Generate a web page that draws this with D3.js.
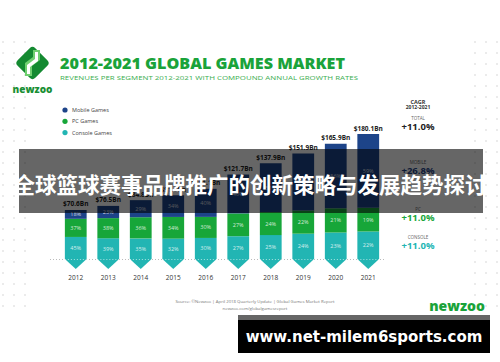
<!DOCTYPE html>
<html>
<head>
<meta charset="utf-8">
<script src="https://cdn.jsdelivr.net/npm/d3@7"></script>
<style>
  html, body { margin: 0; padding: 0; background: #fff; }
  svg { display: block; font-family: "Open Sans", "DejaVu Sans", sans-serif; }
</style>
</head>
<body>
<svg width="500" height="362"></svg>
<script>
// data
const years = ["2012", "2013", "2014", "2015", "2016", "2017", "2018", "2019", "2020", "2021"];
const totals = [70.6, 76.5, 84.8, 91.8, 101.1, 121.7, 137.9, 151.9, 165.9, 180.1];
const mobilePct = [18, 23, 29, 34, 40, 46, 51, 54, 56, 59];
const pcPct = [37, 38, 36, 34, 30, 27, 24, 22, 21, 19];
const consolePct = [45, 39, 35, 32, 30, 27, 25, 24, 23, 22];
const legendLabels = ["Mobile Games", "PC Games", "Console Games"];
const cagrLabels = ["TOTAL", "MOBILE", "PC", "CONSOLE"];
const cagrValues = ["+11.0%", "+26.8%", "+11.0%", "+11.0%"];

const colors = { mobile: "#1d4489", pc: "#17a639", console: "#22b5b3" };

const svg = d3.select("svg");
const baseY = 259;

const x = d3.scaleBand().domain(years).range([59.5, 384.5]).paddingInner(0.33).paddingOuter(0.165);
const y = d3.scaleLinear().domain([0, 180.1]).range([baseY, 134]);

// background dot grid on both sides
const dotRows = d3.range(42, 316, 11);
const dotCols = [3, 14, 25, 475, 486, 497];
svg.append("g").selectAll("circle")
  .data(d3.cross(dotCols, dotRows))
  .join("circle")
  .attr("cx", d => d[0]).attr("cy", d => d[1]).attr("r", 0.7)
  .attr("fill", "#c8c8c8");

// logo
const logo = svg.append("g").attr("transform", "translate(32.5,63)");
logo.append("rect").attr("x", -12.5).attr("y", -12.5).attr("width", 25).attr("height", 25)
  .attr("rx", 4).attr("transform", "rotate(45)").attr("fill", "#148a31");
logo.append("path")
  .attr("d", "M-3,-13 L4,-13 L4,-3 L-4,3 L-4,13 L-11,13 L-11,0 L-3,-6 Z")
  .attr("fill", "#6fcf6f").attr("transform", "translate(3.5,0)");
logo.append("path")
  .attr("d", "M-1,-11 L2,-11 L2,-2 L-6,4 L-6,11 L-9,11 L-9,2 L-1,-4 Z")
  .attr("fill", "#fff").attr("transform", "translate(3.5,0)");
svg.append("text").attr("x", 32.5).attr("y", 93).attr("text-anchor", "middle")
  .attr("font-size", 10).attr("font-weight", 800).attr("fill", "#1a8f35").text("newzoo");

// heading
svg.append("text").attr("x", 60).attr("y", 69)
  .attr("font-size", 16.5).attr("font-weight", 800).attr("fill", "#1aa33a")
  .attr("textLength", 285).attr("lengthAdjust", "spacingAndGlyphs")
  .text("2012-2021 GLOBAL GAMES MARKET");
svg.append("text").attr("x", 60).attr("y", 79.5)
  .attr("font-size", 6).attr("fill", "#3aae4f")
  .attr("textLength", 298).attr("lengthAdjust", "spacingAndGlyphs")
  .text("REVENUES PER SEGMENT 2012-2021 WITH COMPOUND ANNUAL GROWTH RATES");

// legend
const legendColors = [colors.mobile, colors.pc, colors.console];
const legend = svg.append("g").selectAll("g").data(legendLabels).join("g")
  .attr("transform", (d, i) => `translate(65,${110 + i * 11.3})`);
legend.append("circle").attr("r", 2.6).attr("fill", (d, i) => legendColors[i]);
legend.append("text").attr("x", 7).attr("dy", "0.35em")
  .attr("font-size", 5.5).attr("fill", "#444").text(d => d);

// dotted baseline behind bars
svg.append("line").attr("x1", 50).attr("x2", 384).attr("y1", baseY + 0.5).attr("y2", baseY + 0.5)
  .attr("stroke", "#bbb").attr("stroke-width", 1).attr("stroke-dasharray", "1,2");

const rows = years.map((yr, i) => ({
  year: yr, total: totals[i],
  console: totals[i] * consolePct[i] / 100,
  pc: totals[i] * pcPct[i] / 100,
  mobile: totals[i] * mobilePct[i] / 100,
  pct: { console: consolePct[i], pc: pcPct[i], mobile: mobilePct[i] }
}));

const stack = d3.stack().keys(["console", "pc", "mobile"]);
const series = stack(rows);

const bars = svg.append("g");
series.forEach(s => {
  bars.append("g").selectAll("path").data(s).join("path")
    .attr("fill", colors[s.key])
    .attr("d", d => {
      const x0 = x(d.data.year), x1 = x0 + x.bandwidth(), cx = x0 + x.bandwidth() / 2;
      const top = y(d[1]), bot = y(d[0]);
      if (s.key === "console") {
        return `M${x0},${top}H${x1}V${bot}L${cx},${bot + 10}L${x0},${bot}Z`;
      }
      return `M${x0},${top}H${x1}V${bot}H${x0}Z`;
    });
  bars.append("g").selectAll("text").data(s).join("text")
    .attr("x", d => x(d.data.year) + x.bandwidth() / 2)
    .attr("y", d => (y(d[0]) + y(d[1])) / 2)
    .attr("dy", "0.35em").attr("text-anchor", "middle")
    .attr("font-size", 5.5).attr("fill", "#fff").attr("fill-opacity", 0.8)
    .text(d => d.data.pct[s.key] + "%");
});

// dotted line over the bars
svg.append("g").selectAll("line").data(years).join("line")
  .attr("x1", d => x(d)).attr("x2", d => x(d) + x.bandwidth())
  .attr("y1", baseY + 0.5).attr("y2", baseY + 0.5)
  .attr("stroke", "#fff").attr("stroke-opacity", 0.6).attr("stroke-dasharray", "1,2");

// totals
svg.append("g").selectAll("text").data(rows).join("text")
  .attr("x", d => x(d.year) + x.bandwidth() / 2)
  .attr("y", d => y(d.total) - 3.5)
  .attr("text-anchor", "middle").attr("font-size", 6.5).attr("font-weight", 700)
  .attr("fill", "#222").text(d => "$" + d.total.toFixed(1) + "Bn");

// x axis labels
const xAxis = svg.append("g").attr("transform", `translate(0,${baseY + 19})`)
  .call(d3.axisBottom(x).tickSize(0).tickPadding(0));
xAxis.select(".domain").remove();
xAxis.selectAll("text").attr("font-size", 6.5).attr("fill", "#333")
  .attr("font-family", "Open Sans, sans-serif").attr("dy", "0.35em");

// CAGR panel
const cagr = svg.append("g").attr("transform", "translate(418,0)").attr("text-anchor", "middle");
cagr.append("text").attr("y", 103.5).attr("font-size", 5.5).attr("font-weight", 700).attr("fill", "#333").text("CAGR");
cagr.append("text").attr("y", 109).attr("font-size", 5).attr("font-weight", 700).attr("fill", "#333").text("2012-2021");
const cagrY = [118.3, 162.7, 209.3, 237.7];
const cagrColors = ["#222", colors.mobile, colors.pc, colors.console];
cagr.selectAll(".lab").data(cagrLabels).join("text").attr("class", "lab")
  .attr("y", (d, i) => cagrY[i]).attr("dy", "0.35em")
  .attr("font-size", 4.5).attr("fill", "#666").text(d => d);
cagr.selectAll(".val").data(cagrValues).join("text").attr("class", "val")
  .attr("y", (d, i) => cagrY[i] + 8).attr("dy", "0.35em")
  .attr("font-size", 9.5).attr("font-weight", 700)
  .attr("fill", (d, i) => cagrColors[i]).text(d => d);

// footer
svg.append("text").attr("x", 255).attr("y", 303).attr("text-anchor", "middle")
  .attr("font-size", 4.3).attr("fill", "#777")
  .text("Source: ©Newzoo | April 2018 Quarterly Update | Global Games Market Report");
svg.append("text").attr("x", 255).attr("y", 310).attr("text-anchor", "middle")
  .attr("font-size", 4.3).attr("fill", "#777").text("newzoo.com/globalgamesreport");
svg.append("text").attr("x", 457).attr("y", 311).attr("text-anchor", "middle")
  .attr("font-size", 14).attr("font-weight", 800).attr("fill", "#1aa33a").text("newzoo");

// dark title band over the chart
svg.append("rect").attr("x", 19).attr("y", 149).attr("width", 464).attr("height", 64)
  .attr("fill", "#000").attr("fill-opacity", 0.6);
svg.append("text").attr("x", 250).attr("y", 193).attr("text-anchor", "middle")
  .attr("font-family", "Noto Sans CJK SC, sans-serif").attr("font-weight", 700)
  .attr("font-size", 21.5).attr("fill", "#fff")
  .text("全球篮球赛事品牌推广的创新策略与发展趋势探讨");

// site banner
svg.append("rect").attr("x", 238).attr("y", 315).attr("width", 252).attr("height", 5).attr("fill", "#666");
svg.append("rect").attr("x", 238).attr("y", 320).attr("width", 252).attr("height", 33).attr("fill", "#000");
svg.append("text").attr("x", 364).attr("y", 342).attr("text-anchor", "middle")
  .attr("font-family", "DejaVu Sans, sans-serif").attr("font-weight", 700)
  .attr("font-size", 15).attr("fill", "#fff").text("www.net-milem6sports.com");
</script>
</body>
</html>
